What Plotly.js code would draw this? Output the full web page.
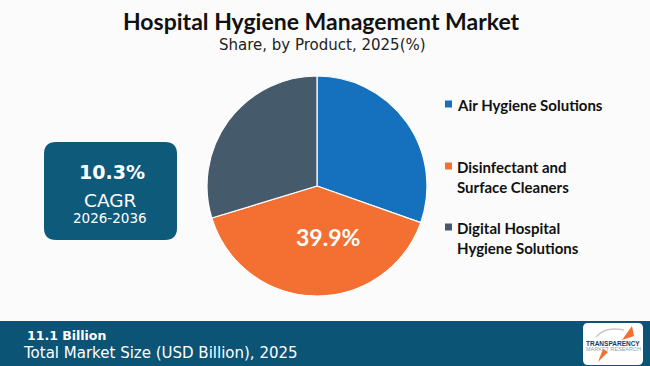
<!DOCTYPE html>
<html><head><meta charset="utf-8">
<script src="https://cdn.plot.ly/plotly-3.0.1.min.js"></script>
<style>html,body{margin:0;padding:0;background:#fbfbfb;}#c{width:650px;height:366px;}</style>
</head><body><div id="c"></div>
<script>
const products = ["Air Hygiene Solutions", "Disinfectant and Surface Cleaners", "Digital Hospital Hygiene Solutions"];
const legendLabels = ["Air Hygiene Solutions", "Disinfectant and<br>Surface Cleaners", "Digital Hospital<br>Hygiene Solutions"];
const shares = [30.4, 39.9, 29.7];
const highlightLabel = "39.9%";
const colors = ["#1571bd", "#f37032", "#455b6b"];
const cagr = "10.3%";
const cagrPeriod = "2026-2036";
const marketSize = "11.1 Billion";

const W = 650, H = 366;
const px = x => x / W, py = y => 1 - y / H;

const trace = {
  type: "pie", labels: products, values: shares, sort: false, direction: "clockwise", rotation: 0,
  marker: {colors: colors, line: {color: "#ffffff", width: 1.2}},
  textinfo: "none",
  domain: {x: [px(207), px(427)], y: [py(296), py(76)]},
  hoverinfo: "label+percent", showlegend: false
};

const legendY = [104, 166, 227];
const rr = (x0, x1, y0, y1, r) => { const P = (x, y) => px(x) + "," + py(y);
  return "M" + P(x0 + r, y0) + " L" + P(x1 - r, y0) + " Q" + P(x1, y0) + " " + P(x1, y0 + r) + " L" + P(x1, y1 - r) + " Q" + P(x1, y1) + " " + P(x1 - r, y1) + " L" + P(x0 + r, y1) + " Q" + P(x0, y1) + " " + P(x0, y1 - r) + " L" + P(x0, y0 + r) + " Q" + P(x0, y0) + " " + P(x0 + r, y0) + " Z"; };
const shapes = [
  {type: "rect", xref: "paper", yref: "paper", x0: 0, x1: 1, y0: 0, y1: py(321), fillcolor: "#0b5475", line: {width: 0}, layer: "below"},
  {type: "path", xref: "paper", yref: "paper", layer: "below", fillcolor: "#0e5a7b", line: {width: 0}, path: rr(44, 177, 142, 240, 12)},
  {type: "path", xref: "paper", yref: "paper", fillcolor: "#ffffff", line: {width: 0}, path: rr(583, 643, 323, 365, 5)},
  {type: "path", xref: "paper", yref: "paper", fillcolor: "#f37032", line: {width: 0},
   path: "M" + px(622) + "," + py(340) + " L" + px(632) + "," + py(326) + " L" + px(634) + "," + py(336) + " Z"},
  {type: "path", xref: "paper", yref: "paper", fillcolor: "#f37032", line: {width: 0},
   path: "M" + px(603) + "," + py(349) + " L" + px(598) + "," + py(362) + " L" + px(608) + "," + py(352) + " Z"},
  {type: "path", xref: "paper", yref: "paper", fillcolor: "rgba(0,0,0,0)", line: {color: "#c9c9c9", width: 1.5},
   path: "M" + px(596) + "," + py(337) + " Q" + px(605) + "," + py(326) + " " + px(624) + "," + py(330)}
];
legendY.forEach((y, i) => shapes.push({type: "rect", xref: "paper", yref: "paper",
  x0: px(445), x1: px(452), y0: py(y + 3.5), y1: py(y - 3.5), fillcolor: colors[i], line: {width: 0}}));

const annotations = [
  {text: "<b>Hospital Hygiene Management Market</b>", x: px(321), y: py(21), xref: "paper", yref: "paper", showarrow: false,
   font: {family: "Lato, sans-serif", size: 23, color: "#111111"}, xanchor: "center", yanchor: "middle"},
  {text: "Share, by Product, 2025(%)", x: px(322), y: py(45), xref: "paper", yref: "paper", showarrow: false,
   font: {family: "'DejaVu Sans', sans-serif", size: 15, color: "#222222"}, xanchor: "center", yanchor: "middle"},
  {text: "<b>" + highlightLabel + "</b>", x: px(328), y: py(237), xref: "paper", yref: "paper", showarrow: false,
   font: {family: "Lato, sans-serif", size: 23, color: "#ffffff"}, xanchor: "center", yanchor: "middle"},
  {text: "<b>" + cagr + "</b>", x: px(112), y: py(172), xref: "paper", yref: "paper", showarrow: false,
   font: {family: "'DejaVu Sans', sans-serif", size: 19, color: "#ffffff"}, xanchor: "center", yanchor: "middle"},
  {text: "CAGR", x: px(110), y: py(200), xref: "paper", yref: "paper", showarrow: false,
   font: {family: "'DejaVu Sans', sans-serif", size: 18.5, color: "#ffffff"}, xanchor: "center", yanchor: "middle"},
  {text: cagrPeriod, x: px(110), y: py(218), xref: "paper", yref: "paper", showarrow: false,
   font: {family: "'DejaVu Sans', sans-serif", size: 13.5, color: "#ffffff"}, xanchor: "center", yanchor: "middle"},
  {text: "<b>" + marketSize + "</b>", x: px(25), y: py(335), xref: "paper", yref: "paper", showarrow: false,
   font: {family: "'DejaVu Sans', sans-serif", size: 12.5, color: "#ffffff"}, xanchor: "left", yanchor: "middle"},
  {text: "Total Market Size (USD Billion), 2025", x: px(21), y: py(353), xref: "paper", yref: "paper", showarrow: false,
   font: {family: "'DejaVu Sans', sans-serif", size: 15, color: "#ffffff"}, xanchor: "left", yanchor: "middle"},
  {text: "<b>TRANSPARENCY</b>", x: px(613), y: py(343), xref: "paper", yref: "paper", showarrow: false,
   font: {family: "'Liberation Sans Narrow', sans-serif", size: 6.5, color: "#1c3a5e"}, xanchor: "center", yanchor: "middle"},
  {text: "MARKET RESEARCH", x: px(613), y: py(349), xref: "paper", yref: "paper", showarrow: false,
   font: {family: "'Liberation Sans Narrow', sans-serif", size: 5.5, color: "#8aa0b0"}, xanchor: "center", yanchor: "middle"}
];
legendLabels.forEach((t, i) => annotations.push({text: "<b>" + t + "</b>", x: px(455), y: py(legendY[i] - 10),
  xref: "paper", yref: "paper", showarrow: false, align: "left", xanchor: "left", yanchor: "top",
  font: {family: "Lato, sans-serif", size: 15, color: "#111111"}}));

const layout = {
  width: W, height: H, margin: {l: 0, r: 0, t: 0, b: 0},
  paper_bgcolor: "#fbfbfb", plot_bgcolor: "#fbfbfb",
  shapes: shapes, annotations: annotations, showlegend: false
};
Plotly.newPlot("c", [trace], layout, {displayModeBar: false, staticPlot: true});
</script></body></html>
